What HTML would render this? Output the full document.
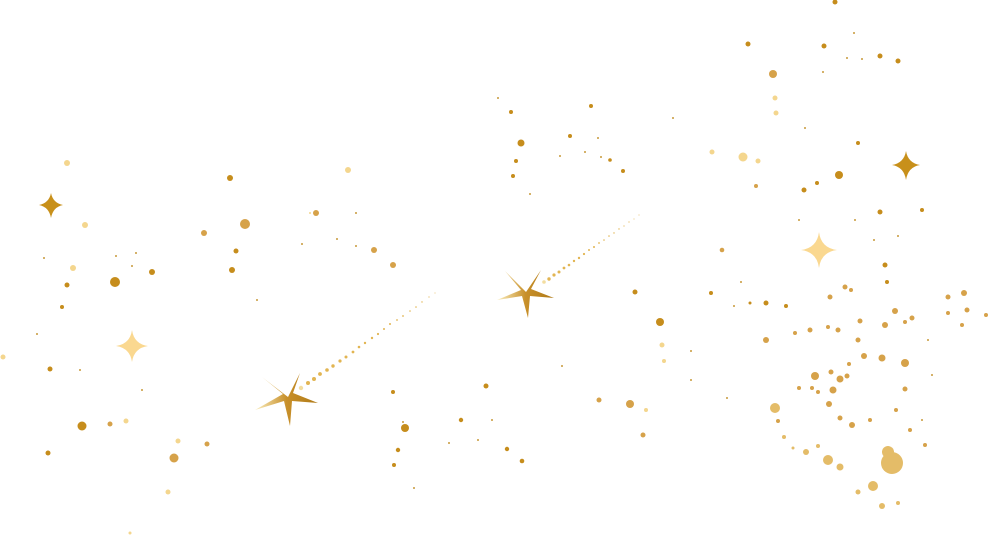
<!DOCTYPE html>
<html><head><style>html,body{margin:0;padding:0;background:#fff;width:989px;height:536px;overflow:hidden}</style></head>
<body>
<svg width="989" height="536" viewBox="0 0 989 536" xmlns="http://www.w3.org/2000/svg">
<defs>
<linearGradient id="g" x1="0" y1="0" x2="1" y2="0"><stop offset="0" stop-color="#fbefc0"/><stop offset="0.5" stop-color="#c8902a"/><stop offset="1" stop-color="#b07a18"/></linearGradient>
</defs>
<g fill="#e2b552">
<circle cx="301" cy="388" r="2.2" fill="#f3dda0"/><circle cx="308" cy="383" r="2"/><circle cx="314" cy="379" r="2"/><circle cx="320" cy="374" r="1.9"/><circle cx="327" cy="370" r="1.8"/><circle cx="333" cy="366" r="1.7"/><circle cx="340" cy="361" r="1.6"/><circle cx="346" cy="357" r="1.5"/><circle cx="353" cy="352" r="1.4"/><circle cx="359" cy="347" r="1.3"/><circle cx="365" cy="343" r="1.2"/><circle cx="372" cy="338" r="1.2"/><circle cx="378" cy="334" r="1.1"/><circle cx="384" cy="329" r="1"/><circle cx="390" cy="324" r="1"/><circle cx="397" cy="320" r="0.9"/><circle cx="403" cy="316" r="0.9"/><circle cx="410" cy="311" r="0.8"/><circle cx="416" cy="307" r="0.8"/><circle cx="422" cy="302" r="0.7"/><circle cx="429" cy="297" r="0.6"/><circle cx="435" cy="293" r="0.5"/>
<circle cx="544" cy="282" r="1.8" fill="#f3dda0"/><circle cx="549" cy="279" r="1.7"/><circle cx="554" cy="275" r="1.6"/><circle cx="559" cy="272" r="1.5"/><circle cx="564" cy="268" r="1.4"/><circle cx="569" cy="265" r="1.3"/><circle cx="574" cy="261" r="1.2"/><circle cx="579" cy="258" r="1.2"/><circle cx="584" cy="254" r="1.1"/><circle cx="589" cy="250" r="1"/><circle cx="594" cy="247" r="1"/><circle cx="599" cy="243" r="0.9"/><circle cx="604" cy="240" r="0.8"/><circle cx="609" cy="236" r="0.8"/><circle cx="614" cy="233" r="0.7"/><circle cx="619" cy="229" r="0.7"/><circle cx="624" cy="226" r="0.6"/><circle cx="629" cy="222" r="0.6"/><circle cx="634" cy="219" r="0.5"/><circle cx="639" cy="215" r="0.5"/>
</g>
<path d="M288,397 L300,373 L293,393 L318,403 L292,401 L290,426 L284,401 L255,410 L283,394 L262,377 Z" fill="url(#g)"/>
<path d="M526,292 L541,270 L531,289 L554,298 L530,296 L528,318 L522,296 L497,300 L521,290 L505,271 Z" fill="url(#g)"/>
<path d="M51,193 Q53,203 63,205 Q53,207 51,218 Q49,207 39,205 Q49,203 51,193Z" fill="#c8901a"/>
<path d="M132,330 Q134,344 148,346 Q134,348 132,362 Q130,348 116,346 Q130,344 132,330Z" fill="#fad890"/>
<path d="M906,151 Q908,163 920,165 Q908,167 906,180 Q904,167 892,165 Q904,163 906,151Z" fill="#c8901a"/>
<path d="M819,232 Q821,248 837,250 Q821,252 819,268 Q817,252 801,250 Q817,248 819,232Z" fill="#fad890"/>
<g fill="#c68d1c">
<circle cx="115" cy="282" r="5"/><circle cx="152" cy="272" r="3"/><circle cx="67" cy="285" r="2.5"/><circle cx="62" cy="307" r="2"/><circle cx="50" cy="369" r="2.5"/><circle cx="82" cy="426" r="4.5"/><circle cx="48" cy="453" r="2.5"/><circle cx="230" cy="178" r="3"/><circle cx="236" cy="251" r="2.5"/><circle cx="232" cy="270" r="3"/><circle cx="393" cy="392" r="2"/><circle cx="405" cy="428" r="4"/><circle cx="398" cy="450" r="2.2"/><circle cx="394" cy="465" r="2"/><circle cx="486" cy="386" r="2.5"/><circle cx="461" cy="420" r="2.2"/><circle cx="507" cy="449" r="2.2"/><circle cx="522" cy="461" r="2.3"/><circle cx="635" cy="292" r="2.5"/><circle cx="660" cy="322" r="4"/><circle cx="511" cy="112" r="2"/><circle cx="521" cy="143" r="3.5"/><circle cx="516" cy="161" r="2"/><circle cx="513" cy="176" r="2"/><circle cx="570" cy="136" r="2"/><circle cx="591" cy="106" r="2"/><circle cx="610" cy="160" r="1.8"/><circle cx="623" cy="171" r="2"/><circle cx="748" cy="44" r="2.5"/><circle cx="824" cy="46" r="2.5"/><circle cx="880" cy="56" r="2.5"/><circle cx="898" cy="61" r="2.5"/><circle cx="835" cy="2" r="2.5"/><circle cx="839" cy="175" r="4"/><circle cx="804" cy="190" r="2.5"/><circle cx="817" cy="183" r="2"/><circle cx="858" cy="143" r="2"/><circle cx="880" cy="212" r="2.5"/><circle cx="922" cy="210" r="2"/><circle cx="885" cy="265" r="2.5"/><circle cx="887" cy="282" r="2"/><circle cx="711" cy="293" r="2"/><circle cx="766" cy="303" r="2.5"/><circle cx="786" cy="306" r="2"/><circle cx="750" cy="303" r="1.5"/>
</g>
<g fill="#d6a24a">
<circle cx="245" cy="224" r="5"/><circle cx="204" cy="233" r="3"/><circle cx="316" cy="213" r="3"/><circle cx="374" cy="250" r="3"/><circle cx="393" cy="265" r="3"/><circle cx="207" cy="444" r="2.5"/><circle cx="174" cy="458" r="4.5"/><circle cx="110" cy="424" r="2.5"/><circle cx="773" cy="74" r="4"/><circle cx="756" cy="186" r="2"/><circle cx="722" cy="250" r="2.3"/><circle cx="630" cy="404" r="4"/><circle cx="599" cy="400" r="2.5"/><circle cx="643" cy="435" r="2.5"/>
<circle cx="830" cy="297" r="2.5"/><circle cx="845" cy="287" r="2.5"/><circle cx="851" cy="290" r="2"/><circle cx="895" cy="311" r="3"/><circle cx="885" cy="325" r="3"/><circle cx="912" cy="318" r="2.5"/><circle cx="905" cy="322" r="2"/><circle cx="860" cy="321" r="2.5"/><circle cx="838" cy="330" r="2.5"/><circle cx="828" cy="327" r="2"/><circle cx="810" cy="330" r="2.5"/><circle cx="795" cy="333" r="2"/><circle cx="766" cy="340" r="3"/><circle cx="858" cy="340" r="2.5"/><circle cx="864" cy="356" r="3"/><circle cx="882" cy="358" r="3.5"/><circle cx="905" cy="363" r="4"/><circle cx="849" cy="364" r="2"/><circle cx="815" cy="376" r="4"/><circle cx="831" cy="372" r="2.5"/><circle cx="840" cy="379" r="3.5"/><circle cx="847" cy="376" r="2.5"/><circle cx="833" cy="390" r="3.5"/><circle cx="818" cy="392" r="2"/><circle cx="812" cy="388" r="2"/><circle cx="799" cy="388" r="2"/><circle cx="905" cy="389" r="2.5"/><circle cx="829" cy="404" r="3"/><circle cx="840" cy="418" r="2.5"/><circle cx="852" cy="425" r="3"/><circle cx="870" cy="420" r="2"/><circle cx="896" cy="410" r="2"/><circle cx="778" cy="421" r="2"/><circle cx="910" cy="430" r="2"/><circle cx="925" cy="445" r="2"/><circle cx="948" cy="297" r="2.5"/><circle cx="964" cy="293" r="3"/><circle cx="967" cy="310" r="2.5"/><circle cx="948" cy="313" r="2"/><circle cx="962" cy="325" r="2"/><circle cx="986" cy="315" r="2"/>
</g>
<g fill="#e4bc68">
<circle cx="775" cy="408" r="5"/><circle cx="828" cy="460" r="5"/><circle cx="840" cy="467" r="3.5"/><circle cx="806" cy="452" r="3"/><circle cx="818" cy="446" r="2"/><circle cx="892" cy="463" r="11"/><circle cx="888" cy="452" r="6"/><circle cx="873" cy="486" r="5"/><circle cx="882" cy="506" r="3"/><circle cx="898" cy="503" r="2"/><circle cx="858" cy="492" r="2.5"/><circle cx="784" cy="437" r="2"/><circle cx="793" cy="448" r="1.5"/>
</g>
<g fill="#f4d68e">
<circle cx="67" cy="163" r="3"/><circle cx="85" cy="225" r="3"/><circle cx="73" cy="268" r="3"/><circle cx="348" cy="170" r="3"/><circle cx="178" cy="441" r="2.5"/><circle cx="168" cy="492" r="2.5"/><circle cx="126" cy="421" r="2.5"/><circle cx="743" cy="157" r="4.5"/><circle cx="758" cy="161" r="2.5"/><circle cx="712" cy="152" r="2.5"/><circle cx="775" cy="98" r="2.5"/><circle cx="776" cy="113" r="2.5"/><circle cx="662" cy="345" r="2.5"/><circle cx="664" cy="361" r="2"/><circle cx="646" cy="410" r="2"/><circle cx="3" cy="357" r="2.5"/><circle cx="130" cy="533" r="1.5"/><circle cx="310" cy="213" r="1"/>
</g>
<g fill="#c89a3a">
<circle cx="44" cy="258" r="1"/><circle cx="116" cy="256" r="1"/><circle cx="136" cy="253" r="1"/><circle cx="132" cy="266" r="1"/><circle cx="37" cy="334" r="1"/><circle cx="80" cy="370" r="1"/><circle cx="142" cy="390" r="1"/><circle cx="257" cy="300" r="1"/><circle cx="302" cy="244" r="1"/><circle cx="337" cy="239" r="1"/><circle cx="356" cy="213" r="1"/><circle cx="356" cy="246" r="1"/><circle cx="403" cy="422" r="1"/><circle cx="414" cy="488" r="1"/><circle cx="449" cy="443" r="1"/><circle cx="478" cy="440" r="1"/><circle cx="492" cy="420" r="1"/><circle cx="560" cy="156" r="1"/><circle cx="585" cy="152" r="1"/><circle cx="598" cy="138" r="1"/><circle cx="601" cy="157" r="1"/><circle cx="530" cy="194" r="1"/><circle cx="562" cy="366" r="1"/><circle cx="691" cy="351" r="1"/><circle cx="727" cy="398" r="1"/><circle cx="691" cy="380" r="1"/><circle cx="823" cy="72" r="1"/><circle cx="847" cy="58" r="1"/><circle cx="854" cy="33" r="1"/><circle cx="862" cy="59" r="1"/><circle cx="805" cy="128" r="1"/><circle cx="799" cy="220" r="1"/><circle cx="855" cy="220" r="1"/><circle cx="874" cy="240" r="1"/><circle cx="898" cy="236" r="1"/><circle cx="734" cy="306" r="1"/><circle cx="741" cy="282" r="1"/><circle cx="928" cy="340" r="1"/><circle cx="932" cy="375" r="1"/><circle cx="922" cy="420" r="1"/><circle cx="673" cy="118" r="1"/><circle cx="498" cy="98" r="1"/></g>
</svg>
</body></html>
